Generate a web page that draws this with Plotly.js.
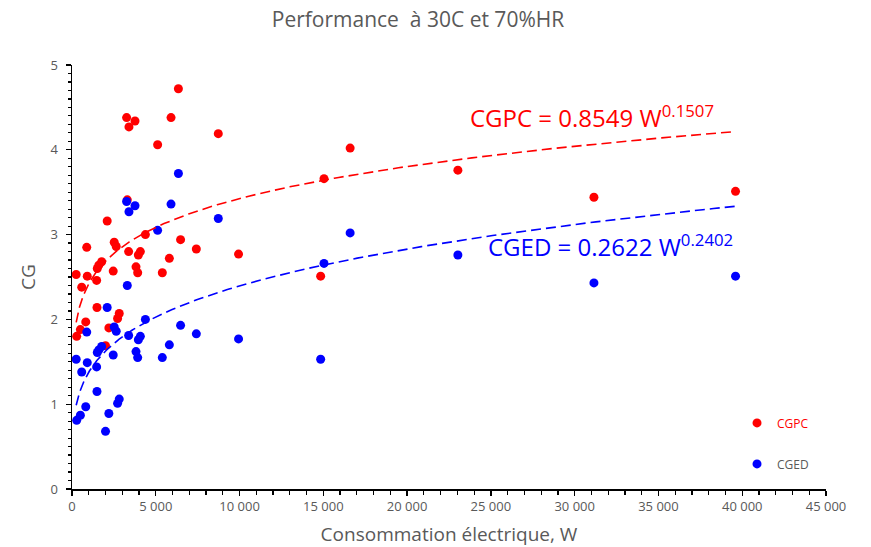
<!DOCTYPE html>
<html>
<head>
<meta charset="utf-8">
<script src="https://cdn.plot.ly/plotly-3.0.1.min.js"></script>
<style>html,body{margin:0;padding:0;background:#fff;}#chart{width:871px;height:547px;}</style>
</head>
<body>
<div id="chart"></div>
<script>
// Electrical consumption (W) shared by both series
const W = [250, 280, 500, 580, 820, 880, 910, 1470, 1490, 1510, 1600, 1770, 2000, 2100, 2200,
  2460, 2520, 2640, 2720, 2820, 3260, 3300, 3400, 3380, 3760, 3820, 3920, 3960, 4080, 4380,
  5110, 5390, 5810, 5910, 6350, 6480, 7420, 8730, 9940, 14840, 15040, 16600, 23030, 31150, 39600];
const CGPC = [2.53, 1.80, 1.88, 2.38, 1.97, 2.85, 2.51, 2.46, 2.14, 2.60, 2.64, 2.68, 1.69, 3.16, 1.90,
  2.57, 2.91, 2.86, 2.01, 2.07, 4.38, 3.41, 4.27, 2.80, 4.34, 2.62, 2.55, 2.76, 2.80, 3.00,
  4.06, 2.55, 2.72, 4.38, 4.72, 2.94, 2.83, 4.19, 2.77, 2.51, 3.66, 4.02, 3.76, 3.44, 3.51];
const CGED = [1.53, 0.81, 0.87, 1.38, 0.97, 1.85, 1.49, 1.44, 1.15, 1.61, 1.64, 1.68, 0.68, 2.14, 0.89,
  1.58, 1.91, 1.86, 1.01, 1.06, 3.39, 2.40, 3.27, 1.81, 3.34, 1.62, 1.55, 1.76, 1.80, 2.00,
  3.05, 1.55, 1.70, 3.36, 3.72, 1.93, 1.83, 3.19, 1.77, 1.53, 2.66, 3.02, 2.76, 2.43, 2.51];
// Power-law trendline coefficients shown on the chart
const fitCGPC = {a: 0.8549, b: 0.1507};
const fitCGED = {a: 0.2622, b: 0.2402};
const xTicks = [0, 5000, 10000, 15000, 20000, 25000, 30000, 35000, 40000, 45000];
const yTicks = [0, 1, 2, 3, 4, 5];

const RED = '#ff0000', BLUE = '#0000ff', GREY = '#595959';
const FONT = 'Open Sans, sans-serif';

function trend(fit) {
  const lo = Math.min(...W), hi = Math.max(...W);
  const xs = [], ys = [];
  const n = 300;
  for (let i = 0; i <= n; i++) {
    const x = lo * Math.pow(hi / lo, i / n);
    xs.push(x); ys.push(fit.a * Math.pow(x, fit.b));
  }
  return {x: xs, y: ys};
}
const tP = trend(fitCGPC), tE = trend(fitCGED);

const traces = [
  {x: W, y: CGPC, type: 'scatter', mode: 'markers', name: '<span style="color:#ff0000">CGPC</span>',
   legendgroup: 'a', marker: {color: RED, size: 9}},
  {x: W, y: CGED, type: 'scatter', mode: 'markers', name: '<span style="color:#595959">CGED</span>',
   legendgroup: 'b', marker: {color: BLUE, size: 9}},
  {x: tP.x, y: tP.y, type: 'scatter', mode: 'lines', showlegend: false, hoverinfo: 'skip',
   line: {color: RED, width: 1.6, dash: '10px,5px'}},
  {x: tE.x, y: tE.y, type: 'scatter', mode: 'lines', showlegend: false, hoverinfo: 'skip',
   line: {color: BLUE, width: 1.6, dash: '10px,5px'}}
];

const layout = {
  width: 871, height: 547,
  margin: {l: 72, r: 45, t: 65, b: 58},
  paper_bgcolor: '#fff', plot_bgcolor: '#fff',
  separators: ', ',
  font: {family: FONT, color: GREY, size: 12},
  title: {text: 'Performance\u00a0 à 30C et 70%HR', x: 418 / 871, xref: 'container', xanchor: 'center',
          y: 1 - 20 / 547, yref: 'container', yanchor: 'middle', font: {family: FONT, size: 21, color: GREY}},
  xaxis: {
    range: [0, 45000], tickvals: xTicks, ticktext: xTicks.map(v => v === 0 ? '0' : (v/1000) + '\u00a0000'),
    showgrid: false, zeroline: false, showline: true, linecolor: '#000', linewidth: 1.5,
    ticks: 'outside', ticklen: 5, tickcolor: '#000', tickwidth: 1.3,
    minor: {dtick: 1000, ticks: 'outside', ticklen: 4, tickcolor: '#000', tickwidth: 1.2, showgrid: false},
    tickfont: {size: 13, color: GREY, family: FONT},
    title: {text: 'Consommation électrique, W', font: {size: 19, color: GREY, family: FONT}, standoff: 15}
  },
  yaxis: {
    range: [0, 5], tickvals: yTicks,
    showgrid: false, zeroline: false, showline: true, linecolor: '#000', linewidth: 1.5,
    ticks: 'outside', ticklen: 5, tickcolor: '#000', tickwidth: 1.3, ticklabelstandoff: 5,
    minor: {dtick: 0.1, ticks: 'outside', ticklen: 3, tickcolor: '#000', tickwidth: 1.2, showgrid: false},
    tickfont: {size: 13, color: GREY, family: FONT},
    title: {text: 'CG', font: {size: 19, color: GREY, family: FONT}, standoff: 10}
  },
  showlegend: true,
  legend: {x: 0.882, y: 0.19, xanchor: 'left', yanchor: 'top', bgcolor: 'rgba(0,0,0,0)',
           font: {size: 12, family: FONT}, tracegroupgap: 22, itemwidth: 30},
  annotations: [
    {xref: 'paper', yref: 'paper', x: (468 - 72) / 754, y: (489 - 117) / 424, xanchor: 'left', yanchor: 'middle',
     text: 'CGPC = 0.8549 W<sup>0.1507</sup>', showarrow: false,
     font: {size: 24, color: RED, family: FONT}},
    {xref: 'paper', yref: 'paper', x: (486 - 72) / 754, y: (489 - 245) / 424, xanchor: 'left', yanchor: 'middle',
     text: 'CGED = 0.2622 W<sup>0.2402</sup>', showarrow: false,
     font: {size: 24, color: BLUE, family: FONT}}
  ]
};

Plotly.newPlot('chart', traces, layout, {displayModeBar: false, staticPlot: true});
</script>
</body>
</html>
